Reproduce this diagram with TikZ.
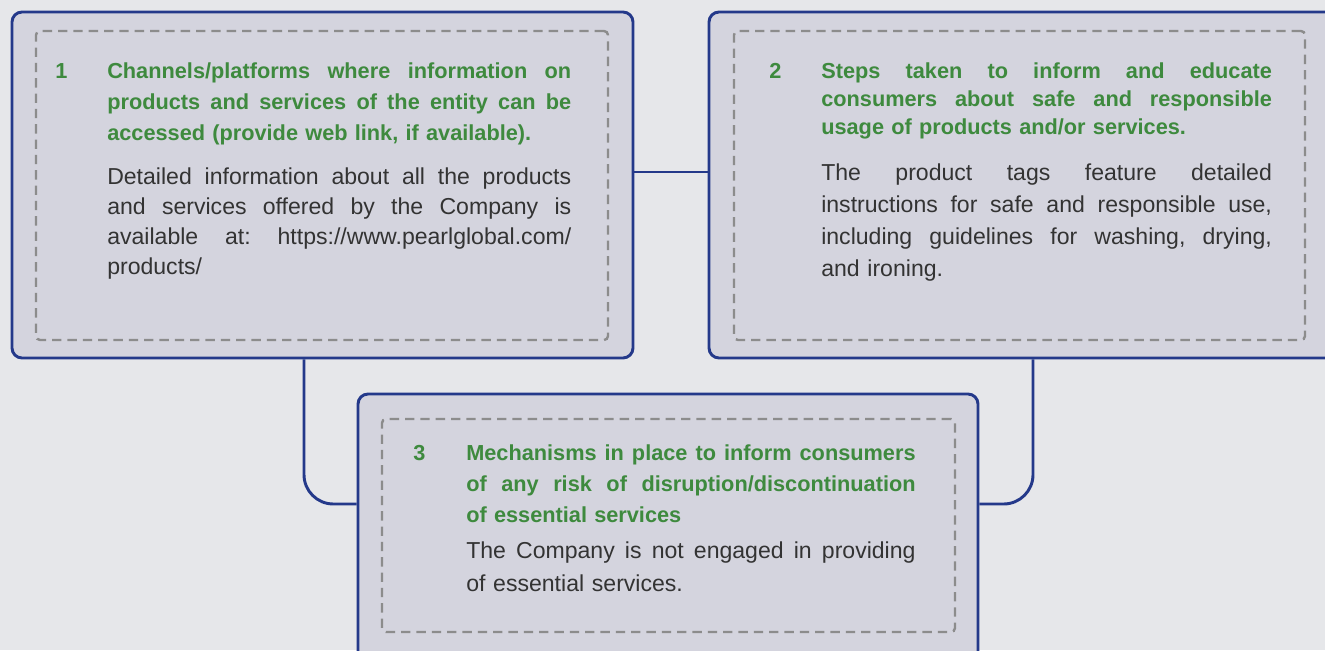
\documentclass[tikz,border=0pt]{standalone}
\usepackage{fontspec}
\setmainfont{Liberation Sans}
\usepackage{tikz}
\usetikzlibrary{positioning, calc, fit}
\definecolor{pgnavy}{HTML}{24398A}
\definecolor{pggreen}{HTML}{3E8A3E}
\definecolor{pgfill}{HTML}{D4D4DE}
\definecolor{pgback}{HTML}{E6E7EA}
\definecolor{pgdash}{HTML}{8C8C8C}
\definecolor{pgtext}{HTML}{333333}
\newcommand{\jline}[1]{\makebox[\hsize][s]{\frenchspacing\spaceskip=0pt\xspaceskip=0pt\relax #1}\\}

\begin{document}
\begin{tikzpicture}[
    x=0.75pt, y=-0.75pt,
    outerbox/.style={draw=pgnavy, fill=pgfill, line width=2.2pt,
                     rounded corners=7.5pt, inner sep=0pt},
    dashbox/.style={draw=pgdash, line width=1.8pt, dash pattern=on 7pt off 4.5pt,
                    rounded corners=3pt, inner sep=0pt},
    link/.style={draw=pgnavy, line width=2.2pt, rounded corners=22pt},
    num/.style={text=pggreen, font=\bfseries\fontsize{16.3}{23.25}\selectfont,
                anchor=base west, inner sep=0pt},
    title/.style={text=pggreen, font=\bfseries\fontsize{16.3}{23.25}\selectfont,
                  anchor=base west, inner sep=0pt, align=left},
    body/.style={text=pgtext, font=\fontsize{17.3}{22.5}\selectfont,
                 anchor=base west, inner sep=0pt, align=left},
]
\clip (0,0) rectangle (1325,650);
\fill[pgback] (0,0) rectangle (1325,650);

\node[outerbox, fit={(12,12) (633,358)}] (box1) {};
\node[outerbox, fit={(709,12) (1345,358)}] (box2) {};
\node[outerbox, fit={(358,394) (978,670)}] (box3) {};

\node[dashbox, fit={(36,31) (608,340)}] (dash1) {};
\node[dashbox, fit={(734,31) (1305,340)}] (dash2) {};
\node[dashbox, fit={(382,419) (955,632)}] (dash3) {};

\coordinate (j12) at (0,172);
\coordinate (j3)  at (0,504);
\coordinate (d1)  at (304,0);
\coordinate (d2)  at (1033,0);

\draw[link] (j12 -| box1.east) -- (j12 -| box2.west);
\draw[link] (d1 |- box1.south) |- (j3 -| box3.west);
\draw[link] (d2 |- box2.south) |- (j3 -| box3.east);

\node[num] (n1) at (55,78) {1};
\node[title, text width=348pt] (t1) at (107,78)
    {\jline{Channels/platforms where information on}
     \jline{products and services of the entity can be}
     accessed (provide web link, if available).};
\node[body, text width=348pt] (b1) at (107,184)
    {\jline{Detailed information about all the products}
     \jline{and services offered by the Company is}
     \jline{available at: https://www.pearlglobal.com/}
     products/};

\node[num] (n2) at (769,78) {2};
\node[title, text width=338pt, font=\bfseries\fontsize{16.3}{21}\selectfont] (t2) at (821,78)
    {\jline{Steps taken to inform and educate}
     \jline{consumers about safe and responsible}
     usage of products and/or services.};
\node[body, text width=338pt, font=\fontsize{17.3}{24}\selectfont] (b2) at (821,180)
    {\jline{The product tags feature detailed}
     \jline{instructions for safe and responsible use,}
     \jline{including guidelines for washing, drying,}
     and ironing.};

\node[num] (n3) at (413,460) {3};
\node[title, text width=337pt] (t3) at (466,460)
    {\jline{Mechanisms in place to inform consumers}
     \jline{of any risk of disruption/discontinuation}
     of essential services};
\node[body, text width=337pt, font=\fontsize{17.3}{24.75}\selectfont] (b3) at (466,558)
    {\jline{The Company is not engaged in providing}
     of essential services.};
\end{tikzpicture}
\end{document}
